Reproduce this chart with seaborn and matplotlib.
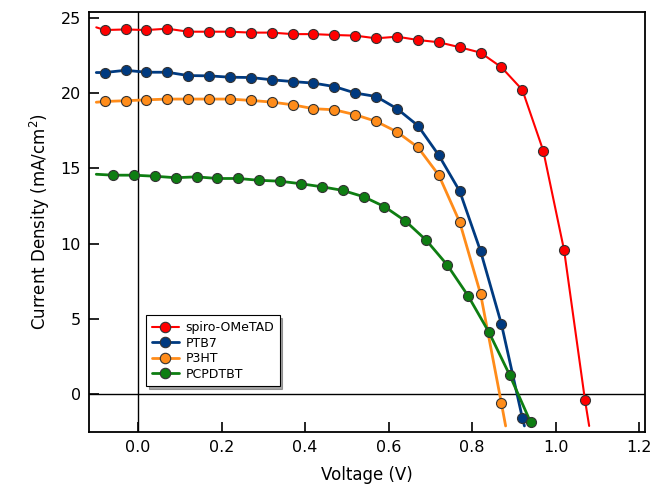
import matplotlib
matplotlib.use('Agg')
import matplotlib.pyplot as plt
from matplotlib.lines import Line2D
import seaborn as sns
import numpy as np
import pandas as pd

# marker voltages (V) and current densities (mA/cm2)
spiro_v = [-0.08, -0.03, 0.02, 0.07, 0.12, 0.17, 0.22, 0.27, 0.32, 0.37, 0.42, 0.47,
           0.52, 0.57, 0.62, 0.67, 0.72, 0.77, 0.82, 0.87, 0.92, 0.97, 1.02, 1.07]
spiro_j = [24.17, 24.21, 24.17, 24.26, 24.06, 24.06, 24.06, 24.0, 24.0, 23.9, 23.9, 23.84,
           23.8, 23.62, 23.73, 23.51, 23.36, 23.03, 22.67, 21.7, 20.2, 16.17, 9.56, -0.39]

ptb7_v = [-0.08, -0.03, 0.02, 0.07, 0.12, 0.17, 0.22, 0.27, 0.32, 0.37, 0.42, 0.47,
          0.52, 0.57, 0.62, 0.67, 0.72, 0.77, 0.82, 0.87, 0.92]
ptb7_j = [21.35, 21.5, 21.37, 21.37, 21.15, 21.13, 21.04, 21.02, 20.87, 20.75, 20.65, 20.42,
          19.99, 19.76, 18.95, 17.83, 15.86, 13.48, 9.5, 4.65, -1.56]

p3ht_v = [-0.08, -0.03, 0.02, 0.07, 0.12, 0.17, 0.22, 0.27, 0.32, 0.37, 0.42, 0.47,
          0.52, 0.57, 0.62, 0.67, 0.72, 0.77, 0.82, 0.87]
p3ht_j = [19.43, 19.48, 19.54, 19.59, 19.59, 19.59, 19.59, 19.5, 19.39, 19.21, 18.95, 18.88,
          18.55, 18.11, 17.41, 16.39, 14.54, 11.43, 6.66, -0.61]

pcpdtbt_v = [-0.06, -0.01, 0.04, 0.09, 0.14, 0.19, 0.24, 0.29, 0.34, 0.39, 0.44, 0.49,
             0.54, 0.59, 0.64, 0.69, 0.74, 0.79, 0.84, 0.89, 0.94]
pcpdtbt_j = [14.54, 14.54, 14.47, 14.37, 14.43, 14.32, 14.32, 14.2, 14.14, 13.97, 13.77, 13.53,
             13.11, 12.45, 11.5, 10.22, 8.59, 6.54, 4.12, 1.26, -1.87]

# where the measured curves start and stop (beyond the markers)
line_start = {'spiro-OMeTAD': (-0.10, 24.35), 'PTB7': (-0.10, 21.35),
              'P3HT': (-0.10, 19.38), 'PCPDTBT': (-0.10, 14.6)}
line_end = {'spiro-OMeTAD': (1.08, -2.1), 'PTB7': (0.925, -2.1),
            'P3HT': (0.88, -2.1), 'PCPDTBT': (0.945, -2.0)}

names = ['spiro-OMeTAD', 'PTB7', 'P3HT', 'PCPDTBT']
volts = [spiro_v, ptb7_v, p3ht_v, pcpdtbt_v]
currents = [spiro_j, ptb7_j, p3ht_j, pcpdtbt_j]
colors = ['#FF0000', '#003A80', '#FF8C1A', '#0E7E12']
widths = [1.5, 2.0, 2.0, 2.0]

if __name__ == "__main__":
    sns.set_style('white')
    plt.rcParams['font.family'] = ['DejaVu Sans']
    plt.rcParams['text.color'] = 'black'
    plt.rcParams['axes.labelcolor'] = 'black'
    plt.rcParams['xtick.color'] = 'black'
    plt.rcParams['ytick.color'] = 'black'

    fig = plt.figure(figsize=(6.51, 4.92), dpi=100)
    ax = fig.add_axes([0.137, 0.122, 0.854, 0.854])

    ax.axhline(0, color='black', lw=1, zorder=1)
    ax.axvline(0, color='black', lw=1, zorder=1)

    handles = []
    for name, v, j, c, w in zip(names, volts, currents, colors, widths):
        lx = [line_start[name][0]] + v + [line_end[name][0]]
        ly = [line_start[name][1]] + j + [line_end[name][1]]
        line_df = pd.DataFrame({'V': lx, 'J': ly})
        sns.lineplot(data=line_df, x='V', y='J', color=c, lw=w, ax=ax,
                     estimator=None, sort=False, zorder=2)
        pts = pd.DataFrame({'V': v, 'J': j})
        sns.scatterplot(data=pts, x='V', y='J', color=c, s=52, edgecolor='#333333',
                        linewidth=0.8, ax=ax, zorder=3)
        handles.append(Line2D([0], [0], color=c, lw=w, marker='o', markersize=7.5,
                              markerfacecolor=c, markeredgecolor='#333333',
                              markeredgewidth=0.8))

    ax.set_xlim(-0.117, 1.214)
    ax.set_ylim(-2.5, 25.38)
    ax.set_xticks([0.0, 0.2, 0.4, 0.6, 0.8, 1.0, 1.2])
    ax.set_xticklabels(['0.0', '0.2', '0.4', '0.6', '0.8', '1.0', '1.2'])
    ax.set_yticks([0, 5, 10, 15, 20, 25])
    ax.tick_params(direction='in', length=7, width=1.2, labelsize=11.5,
                   bottom=True, left=True, top=False, right=False, pad=6,
                   colors='black')
    for sp in ax.spines.values():
        sp.set_color('black')
        sp.set_linewidth(1.3)

    ax.set_xlabel('Voltage (V)', fontsize=12, labelpad=8, color='black')
    ax.set_ylabel('Current Density (mA/cm$^2$)', fontsize=12, labelpad=6, color='black')

    leg = ax.legend(handles, names, loc='lower left', bbox_to_anchor=(0.102, 0.109),
                    borderaxespad=0, fontsize=9, frameon=True, fancybox=False,
                    shadow=True, edgecolor='black', handlelength=2.2,
                    labelspacing=0.2, borderpad=0.45, handletextpad=0.5)
    leg.get_frame().set_linewidth(0.8)
    for t in leg.get_texts():
        t.set_color('black')

    fig.savefig('out.png', dpi=100)
